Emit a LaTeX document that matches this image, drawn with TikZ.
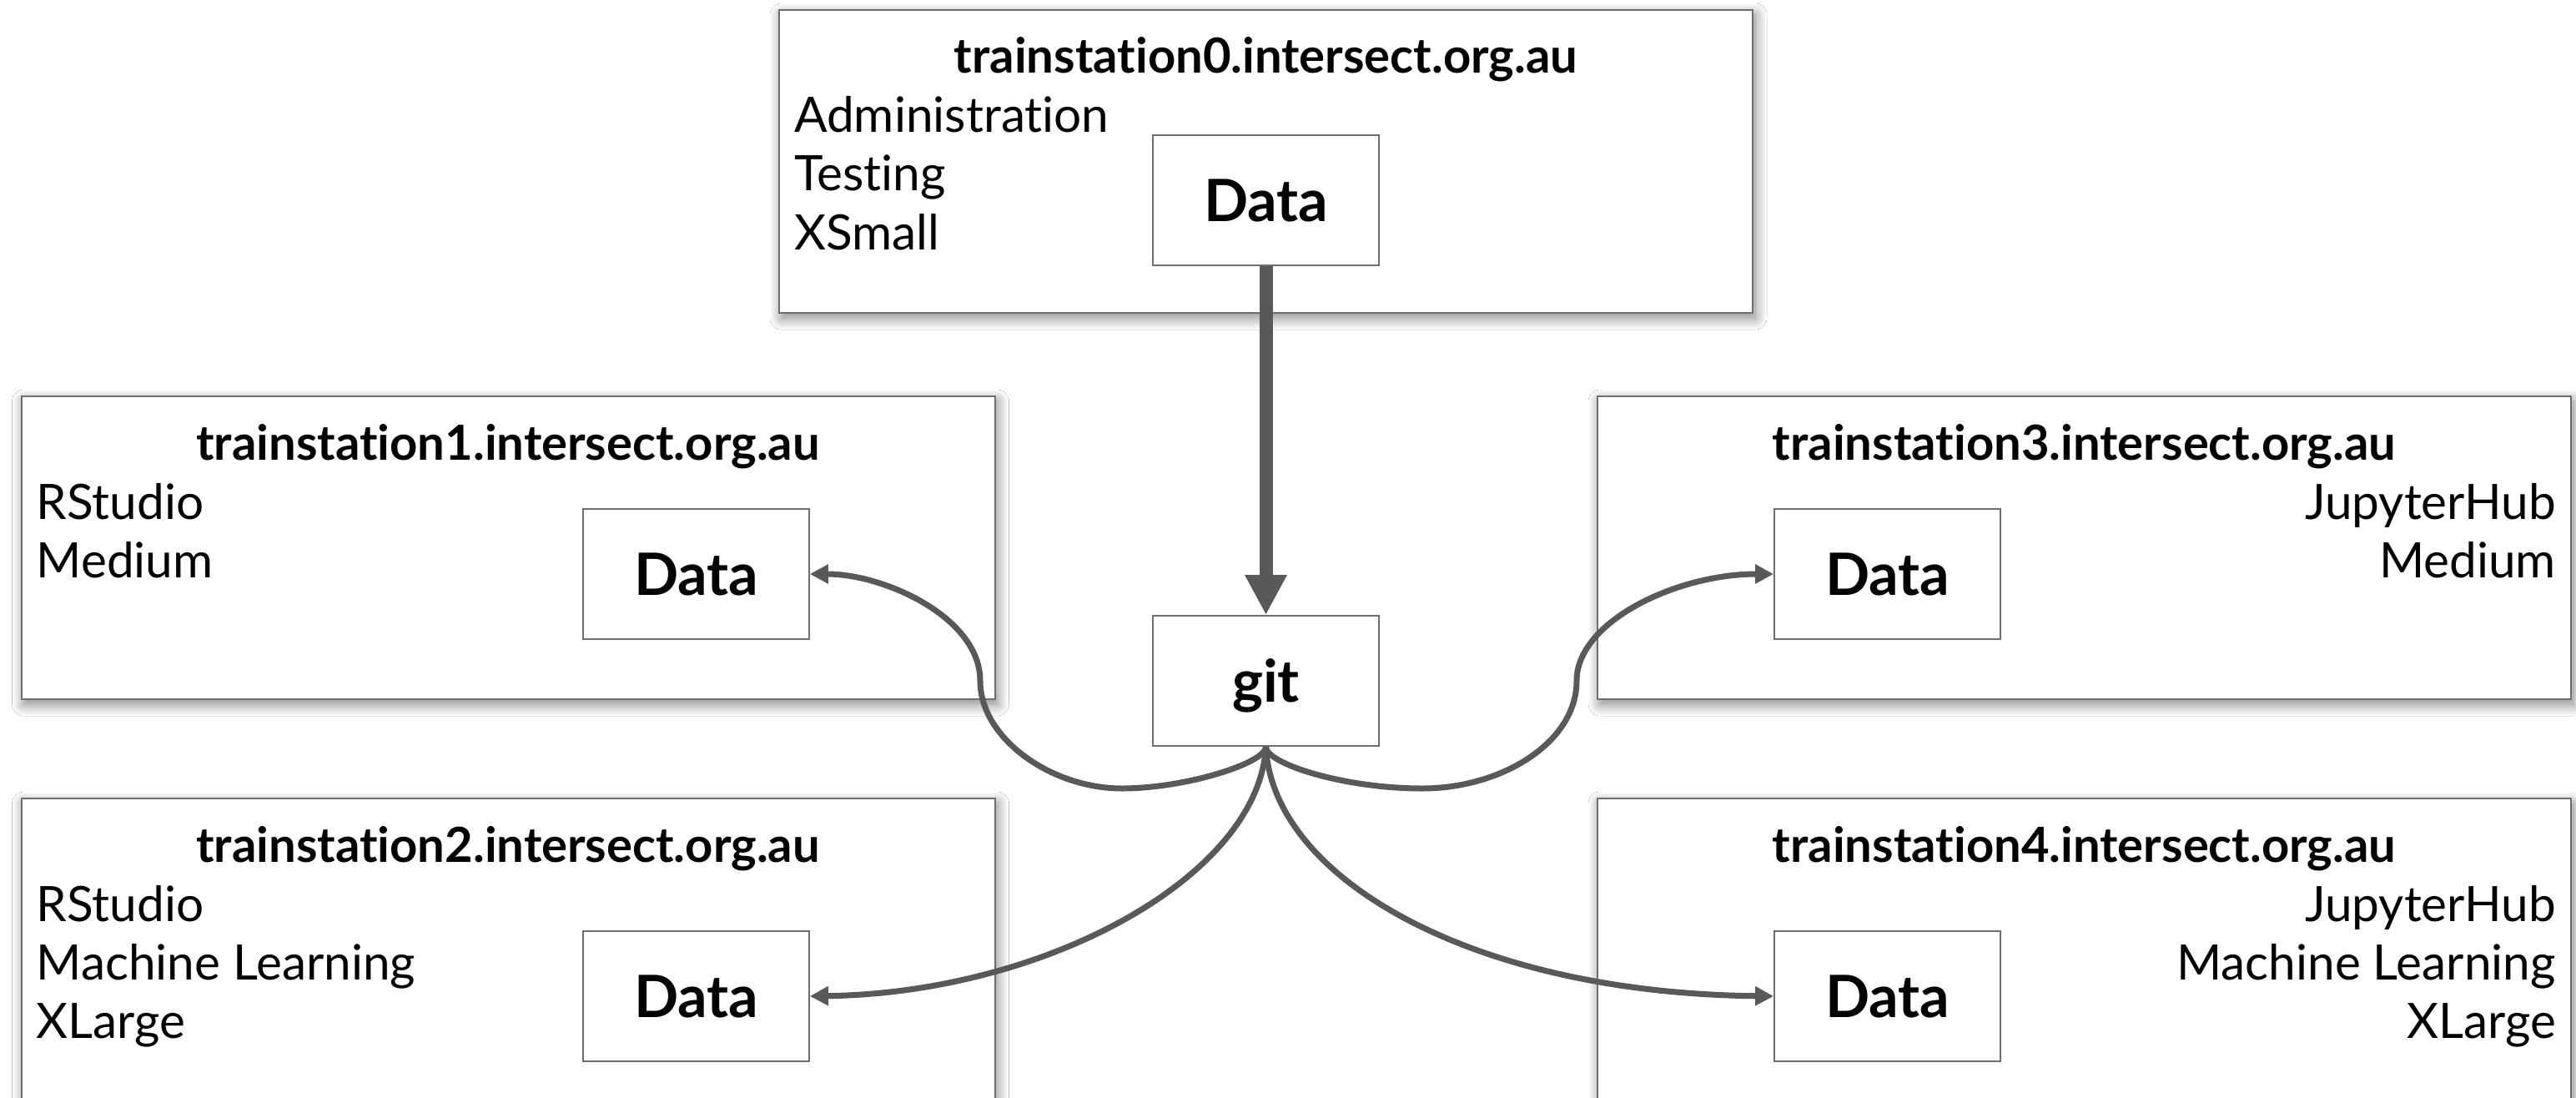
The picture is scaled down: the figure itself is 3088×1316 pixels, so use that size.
\documentclass[tikz,border=0pt]{standalone}
\usepackage{fontspec}
\setmainfont{Lato}[Ligatures=NoCommon]
\usetikzlibrary{arrows.meta,shadows.blur}
\definecolor{linegray}{HTML}{595959}
\definecolor{boxgray}{HTML}{6E6E6E}
\begin{document}
\begin{tikzpicture}[x=1pt,y=-1pt,
  hostbox/.style={draw=boxgray, line width=2pt, fill=white, minimum width=1167pt, minimum height=363pt, inner sep=0pt,
    blur shadow={shadow xshift=3pt, shadow yshift=-6pt, shadow blur radius=14pt, shadow blur steps=14, shadow opacity=50}},
  databox/.style={draw=boxgray, line width=1.8pt, fill=white, minimum width=271pt, minimum height=156pt, inner sep=0pt,
    font=\fontsize{70}{82}\selectfont\bfseries, text depth=0pt},
  hosttitle/.style={anchor=base, inner sep=0pt, font=\fontsize{58}{70}\selectfont\bfseries},
  item/.style={inner sep=0pt, font=\fontsize{58.5}{70}\selectfont},
  conn/.style={draw=linegray, line width=7pt, -{Triangle[length=22pt,width=22pt]}},
  mainarrow/.style={draw=linegray, line width=16pt, -{Triangle[length=48pt,width=47pt]}}
]
\useasboundingbox[fill=white] (0,0) rectangle (3088,1316);

% host boxes
\node[hostbox] (b0) at (1517.5,193.5) {};
\node[hostbox] (b1) at (609,656.5) {};
\node[hostbox] (b3) at (2498.5,656.5) {};
\node[hostbox] (b2) at (609,1138.5) {};
\node[hostbox] (b4) at (2498.5,1138.5) {};

% titles
\node[hosttitle] (t0) at ([shift={(0,77)}]b0.north) {trainstation0.intersect.org.au};
\node[hosttitle] (t1) at ([shift={(0,77)}]b1.north) {trainstation1.intersect.org.au};
\node[hosttitle] (t2) at ([shift={(0,77)}]b2.north) {trainstation2.intersect.org.au};
\node[hosttitle] (t3) at ([shift={(0,77)}]b3.north) {trainstation3.intersect.org.au};
\node[hosttitle] (t4) at ([shift={(0,77)}]b4.north) {trainstation4.intersect.org.au};

% items
\node[item, anchor=base west] (i0a) at ([shift={(19,148)}]b0.north west) {Administration};
\node[item, anchor=base west] (i0b) at ([shift={(19,218)}]b0.north west) {Testing};
\node[item, anchor=base west] (i0c) at ([shift={(19,288)}]b0.north west) {XSmall};

\node[item, anchor=base west] (i1a) at ([shift={(19,148)}]b1.north west) {RStudio};
\node[item, anchor=base west] (i1b) at ([shift={(19,218)}]b1.north west) {Medium};

\node[item, anchor=base west] (i2a) at ([shift={(19,148)}]b2.north west) {RStudio};
\node[item, anchor=base west] (i2b) at ([shift={(19,218)}]b2.north west) {Machine Learning};
\node[item, anchor=base west] (i2c) at ([shift={(19,288)}]b2.north west) {XLarge};

\node[item, anchor=base east] (i3a) at ([shift={(-19,148)}]b3.north east) {JupyterHub};
\node[item, anchor=base east] (i3b) at ([shift={(-19,218)}]b3.north east) {Medium};

\node[item, anchor=base east] (i4a) at ([shift={(-19,148)}]b4.north east) {JupyterHub};
\node[item, anchor=base east] (i4b) at ([shift={(-19,218)}]b4.north east) {Machine Learning};
\node[item, anchor=base east] (i4c) at ([shift={(-19,288)}]b4.north east) {XLarge};

% data boxes and git
\node[databox] (d0) at (1517.5,240) {Data};
\node[databox] (d1) at (834.5,688) {Data};
\node[databox] (d3) at (2262.5,688) {Data};
\node[databox] (d2) at (834.5,1194) {Data};
\node[databox] (d4) at (2262.5,1194) {Data};
\node[databox] (git) at (1517.5,816) {git};

% connectors
\draw[mainarrow] (d0.south) -- (git.north);

\coordinate (l1) at (1345,945);
\coordinate (l2) at (1175,816);
\draw[conn] (git.south) .. controls (1517,915) and (1420,945) .. (l1)
  .. controls (1260,945) and (1175,885) .. (l2)
  .. controls (1175,740) and (1060,688) .. (d1.east);

\coordinate (r1) at (1705,945);
\coordinate (r2) at (1890,816);
\draw[conn] (git.south) .. controls (1517,915) and (1610,945) .. (r1)
  .. controls (1800,945) and (1890,890) .. (r2)
  .. controls (1890,745) and (2010,688) .. (d3.west);

\draw[conn] (git.south) .. controls (1525,1050) and (1760,1190) .. (d4.west);
\draw[conn] (git.south) .. controls (1509,1050) and (1254,1190) .. (d2.east);
\end{tikzpicture}
\end{document}
